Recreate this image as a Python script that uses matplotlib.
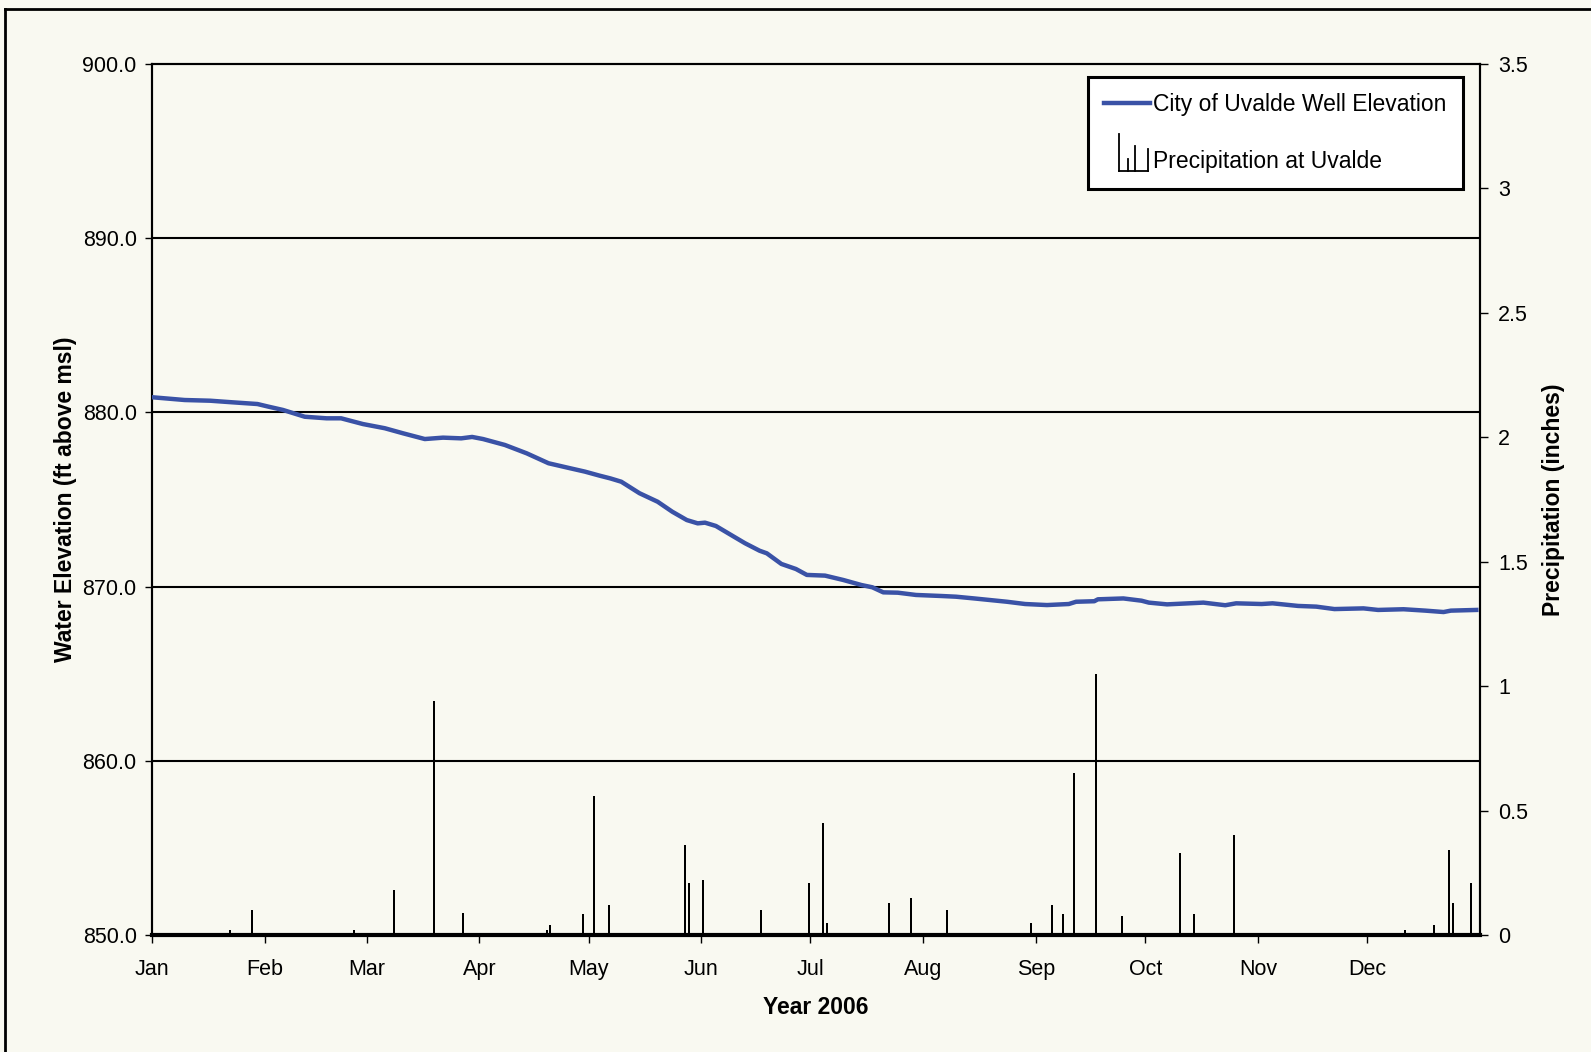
import matplotlib
matplotlib.use('Agg')
import matplotlib.pyplot as plt
import matplotlib.dates as mdates
import pandas as pd
from matplotlib.lines import Line2D
from matplotlib.legend_handler import HandlerBase

plt.rcParams['font.family'] = ['Liberation Sans', 'DejaVu Sans']

# well elevation (ft above msl)
well_dates = ['2006-01-01', '2006-01-10', '2006-01-17', '2006-01-23', '2006-01-30',
              '2006-02-02', '2006-02-06', '2006-02-12', '2006-02-18', '2006-02-22',
              '2006-02-28', '2006-03-06', '2006-03-11', '2006-03-17', '2006-03-22',
              '2006-03-27', '2006-03-30', '2006-04-02', '2006-04-08', '2006-04-14',
              '2006-04-20', '2006-04-26', '2006-04-30', '2006-05-04', '2006-05-07',
              '2006-05-10', '2006-05-15', '2006-05-20', '2006-05-24', '2006-05-28',
              '2006-05-31', '2006-06-02', '2006-06-05', '2006-06-10', '2006-06-13',
              '2006-06-17', '2006-06-19', '2006-06-23', '2006-06-27', '2006-06-30',
              '2006-07-05', '2006-07-10', '2006-07-15', '2006-07-18', '2006-07-21',
              '2006-07-25', '2006-07-30', '2006-08-06', '2006-08-10', '2006-08-15',
              '2006-08-24', '2006-08-29', '2006-09-04', '2006-09-10', '2006-09-12',
              '2006-09-17', '2006-09-18', '2006-09-25', '2006-09-30', '2006-10-02',
              '2006-10-07', '2006-10-17', '2006-10-23', '2006-10-26', '2006-11-02',
              '2006-11-05', '2006-11-12', '2006-11-17', '2006-11-22', '2006-11-30',
              '2006-12-04', '2006-12-11', '2006-12-17', '2006-12-22', '2006-12-24',
              '2006-12-31']
well_elev = [880.87, 880.71, 880.67, 880.58, 880.48,
             880.33, 880.14, 879.75, 879.66, 879.66,
             879.33, 879.09, 878.80, 878.47, 878.55,
             878.51, 878.59, 878.47, 878.13, 877.65,
             877.08, 876.79, 876.60, 876.37, 876.21,
             876.02, 875.36, 874.87, 874.30, 873.82,
             873.63, 873.67, 873.48, 872.86, 872.49,
             872.06, 871.91, 871.30, 871.01, 870.67,
             870.63, 870.38, 870.09, 869.96, 869.67,
             869.65, 869.52, 869.46, 869.42, 869.32,
             869.13, 869.00, 868.94, 869.00, 869.13,
             869.16, 869.27, 869.32, 869.19, 869.08,
             868.98, 869.08, 868.93, 869.04, 869.00,
             869.04, 868.89, 868.85, 868.71, 868.75,
             868.66, 868.70, 868.62, 868.54, 868.62,
             868.66]

# daily precipitation at Uvalde (inches)
rain_dates = ['2006-01-22', '2006-01-28', '2006-02-20', '2006-02-25', '2006-03-08',
              '2006-03-19', '2006-03-22', '2006-03-23', '2006-03-27', '2006-03-28',
              '2006-04-19', '2006-04-20', '2006-04-29', '2006-05-02', '2006-05-06',
              '2006-05-27', '2006-05-28', '2006-06-01', '2006-06-17', '2006-06-30',
              '2006-07-04', '2006-07-05', '2006-07-22', '2006-07-28', '2006-08-04',
              '2006-08-07', '2006-08-30', '2006-09-05', '2006-09-08', '2006-09-11',
              '2006-09-17', '2006-09-18', '2006-09-24', '2006-10-10', '2006-10-14',
              '2006-10-15', '2006-10-16', '2006-10-24', '2006-10-25', '2006-10-26',
              '2006-12-10', '2006-12-11', '2006-12-12', '2006-12-17', '2006-12-19',
              '2006-12-23', '2006-12-24', '2006-12-29']
rain_in = [0.02, 0.10, 0.01, 0.02, 0.18,
           0.94, 0.01, 0.01, 0.09, 0.01,
           0.02, 0.04, 0.085, 0.56, 0.12,
           0.36, 0.21, 0.22, 0.10, 0.21,
           0.45, 0.05, 0.13, 0.15, 0.01,
           0.10, 0.05, 0.12, 0.085, 0.65,
           1.05, 0.01, 0.075, 0.33, 0.085,
           0.01, 0.01, 0.01, 0.40, 0.01,
           0.01, 0.02, 0.01, 0.01, 0.04,
           0.34, 0.13, 0.21]

month_starts = pd.date_range('2006-01-01', '2006-12-01', freq='MS')

bg = '#F9F9F1'
blue = '#3A52A6'


class PrecipHandler(HandlerBase):
    # little bar-chart glyph like the one in the original legend
    def create_artists(self, legend, orig_handle, xdescent, ydescent,
                       width, height, fontsize, trans):
        x0 = -xdescent + width * 0.33
        x1 = -xdescent + width * 0.97
        y0 = -ydescent - height * 0.2
        arts = [Line2D([x0, x1], [y0, y0], color='black', lw=1.3, transform=trans)]
        for fx, h in [(0.0, 2.3), (0.3, 0.75), (0.55, 1.55), (1.0, 1.4)]:
            xx = x0 + fx * (x1 - x0)
            arts.append(Line2D([xx, xx], [y0, y0 + h * height], color='black',
                               lw=1.3, transform=trans))
        return arts


fig = plt.figure(figsize=(15.91, 10.52), dpi=100, facecolor=bg)
ax = fig.add_axes([0.0955, 0.1112, 0.8347, 0.8280])
ax2 = ax.twinx()

x_rain = pd.to_datetime(rain_dates) + pd.Timedelta(hours=12)
ax2.bar(x_rain, rain_in, width=0.55, color='black', zorder=2)
ax2.set_ylim(0, 3.5)
ax2.set_yticks([0, 0.5, 1, 1.5, 2, 2.5, 3, 3.5])
ax2.set_yticklabels(['0', '0.5', '1', '1.5', '2', '2.5', '3', '3.5'])
ax2.set_ylabel('Precipitation (inches)', fontsize=16.5, fontweight='bold', labelpad=10)

ax.set_zorder(ax2.get_zorder() + 1)
ax.patch.set_visible(False)
ax2.patch.set_facecolor(bg)

line, = ax.plot(pd.to_datetime(well_dates), well_elev, color=blue, lw=3.2, zorder=3)
ax.set_ylim(850, 900)
ax.set_yticks([850, 860, 870, 880, 890, 900])
ax.set_yticklabels(['%.1f' % v for v in [850, 860, 870, 880, 890, 900]])
for v in [860, 870, 880, 890]:
    ax.axhline(v, color='black', lw=1.5, zorder=1)
ax.set_ylabel('Water Elevation (ft above msl)', fontsize=16.5, fontweight='bold', labelpad=4)

ax.set_xlim(pd.Timestamp('2006-01-01'), pd.Timestamp('2007-01-01'))
ax.set_xticks(month_starts)
ax.xaxis.set_major_formatter(mdates.DateFormatter('%b'))
ax.set_xlabel('Year 2006', fontsize=16.5, fontweight='bold', labelpad=12)

ax.tick_params(axis='x', labelsize=15.5, length=6, width=1, pad=11, direction='out')
ax.tick_params(axis='y', labelsize=15.5, length=5, width=1, pad=6, direction='out')
ax2.tick_params(axis='y', labelsize=15.5, length=6, width=1, pad=7, direction='out')

for a in (ax, ax2):
    for s in a.spines.values():
        s.set_linewidth(1.5)
        s.set_color('black')
ax.spines['bottom'].set_linewidth(3)

rain_handle = Line2D([], [], color='black')
leg = ax.legend([line, rain_handle],
                ['City of Uvalde Well Elevation', 'Precipitation at Uvalde'],
                handler_map={rain_handle: PrecipHandler()},
                loc='upper right', bbox_to_anchor=(0.987, 0.9854), borderaxespad=0,
                fontsize=16.5, frameon=True, fancybox=False, edgecolor='black',
                facecolor='white', framealpha=1, handlelength=2.0,
                handletextpad=0.15, labelspacing=1.5, borderpad=0.7)
leg.get_frame().set_linewidth(2.2)

# outer frame round the chart
fig.add_artist(Line2D([5 / 1591, 5 / 1591], [0, 1 - 9 / 1052], color='black', lw=2,
                      transform=fig.transFigure))
fig.add_artist(Line2D([5 / 1591, 1], [1 - 9 / 1052, 1 - 9 / 1052], color='black', lw=2,
                      transform=fig.transFigure))

fig.savefig('out.png', dpi=100, facecolor=bg)
